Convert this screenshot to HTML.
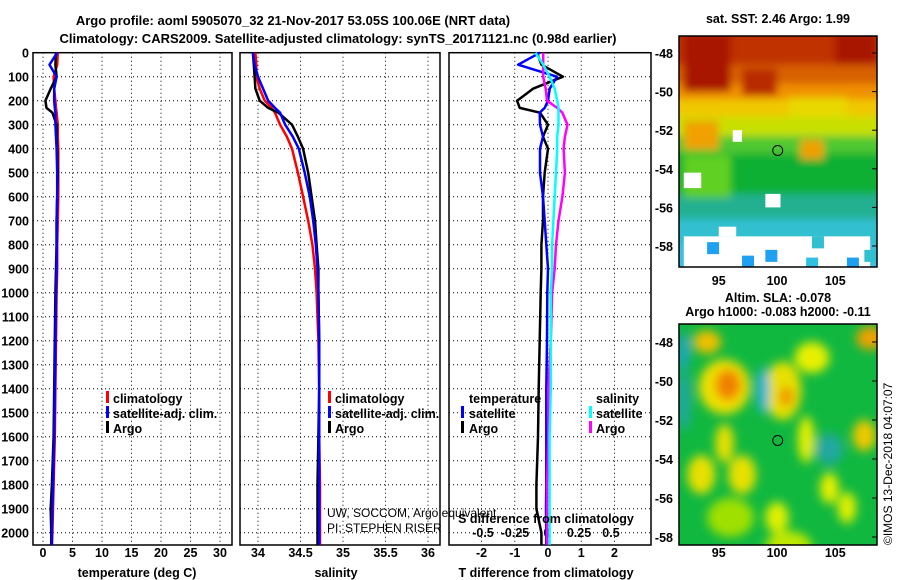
<!DOCTYPE html>
<html><head><meta charset="utf-8"><style>
body{margin:0;background:#fff;}
svg{display:block;font-family:"Liberation Sans",sans-serif;}
.t{font-weight:bold;font-size:13px;fill:#000;}
.tk{font-weight:bold;font-size:12.5px;fill:#000;}
</style></head><body>
<svg id="fig" width="900" height="580" viewBox="0 0 900 580">
<defs>
<filter id="bl" x="-20%" y="-20%" width="140%" height="140%"><feGaussianBlur stdDeviation="5"/></filter>
<filter id="bl2" x="-20%" y="-20%" width="140%" height="140%"><feGaussianBlur stdDeviation="4"/></filter>
<clipPath id="c1"><rect x="679" y="36" width="198" height="231"/></clipPath>
<clipPath id="c2"><rect x="679" y="324" width="198" height="221"/></clipPath>
</defs>
<text class="t" x="293" y="25" text-anchor="middle">Argo profile: aoml 5905070_32 21-Nov-2017 53.05S 100.06E (NRT data)</text>
<text class="t" x="338" y="43" text-anchor="middle">Climatology: CARS2009. Satellite-adjusted climatology: synTS_20171121.nc (0.98d earlier)</text>
<g id="plots"></g>
<g id="maps"></g>
</svg>
<script>
// ---- data ----
const depths = [0,50,100,150,200,230,250,300,350,400,500,600,700,800,900,1000,1200,1400,1600,1800,1900,2000,2050];
const tempClim = [2.5,2.4,1.8,1.9,2.1,2.2,2.3,2.5,2.5,2.6,2.6,2.6,2.5,2.4,2.4,2.3,2.2,2.1,2.0,1.8,1.7,1.6,1.5];
const tempSat  = [2.4,1.1,2.3,1.9,1.9,2.0,2.1,2.1,2.2,2.3,2.4,2.4,2.3,2.3,2.3,2.2,2.1,2.0,1.9,1.7,1.6,1.5,1.5];
const tempArgo = [2.2,2.1,2.3,1.3,0.4,0.6,1.6,2.3,2.3,2.4,2.5,2.4,2.3,2.3,2.2,2.1,2.0,1.9,1.8,1.5,1.3,1.4,1.4];
const salClim = [33.97,33.98,33.98,34.02,34.08,34.16,34.2,34.26,34.34,34.4,34.47,34.53,34.59,34.64,34.67,34.69,34.71,34.72,34.72,34.73,34.73,34.73,34.73];
const salSat  = [33.94,33.96,34.0,34.06,34.12,34.2,34.26,34.32,34.41,34.48,34.55,34.61,34.65,34.68,34.7,34.71,34.72,34.72,34.72,34.72,34.72,34.72,34.72];
const salArgo = [33.94,33.95,33.96,33.97,34.02,34.12,34.24,34.4,34.47,34.53,34.59,34.63,34.67,34.69,34.71,34.71,34.72,34.72,34.71,34.70,34.70,34.70,34.70];
const tDiffArgo = [-0.33,-0.2,0.45,-0.45,-0.93,-0.85,-0.24,0,-0.15,0,-0.1,-0.15,-0.15,-0.2,-0.2,-0.22,-0.25,-0.28,-0.3,-0.35,-0.35,-0.2,-0.2];
const tDiffSat  = [-0.24,-0.9,0.27,0.05,0,-0.1,-0.25,-0.24,-0.15,-0.24,-0.24,-0.15,-0.1,-0.05,0,-0.02,-0.03,-0.05,-0.05,-0.05,-0.06,-0.05,-0.05];
const sDiffArgo = [-0.03,-0.03,-0.03,-0.01,0,0.08,0.12,0.16,0.14,0.13,0.14,0.12,0.09,0.07,0.06,0.04,0.03,0.01,0.01,0.0,0.0,0.0,0.0];
const sDiffSat  = [-0.09,-0.03,0.02,0.06,0.08,0.09,0.09,0.09,0.08,0.08,0.07,0.06,0.05,0.04,0.04,0.03,0.03,0.03,0.02,0.02,0.02,0.02,0.02];
const depthTicks = [0,100,200,300,400,500,600,700,800,900,1000,1100,1200,1300,1400,1500,1600,1700,1800,1900,2000];
const tempTicks = [0,5,10,15,20,25,30];
const salTicks = [34,34.5,35,35.5,36];
const tDiffTicks = [-2,-1,0,1,2];
const sDiffTicks = [-0.5,-0.25,0,0.25,0.5];

const NS='http://www.w3.org/2000/svg';
function mk(tag,attrs,parent){const e=document.createElementNS(NS,tag);for(const k in attrs)e.setAttribute(k,attrs[k]);parent.appendChild(e);return e;}
const Y0=52.7, PXM=0.24, YB=545;
const yScale = d => Y0 + d*PXM;
const tempX = v => 43 + v*5.9;
const salX = v => 258 + (v-34)*85;
const tdX = v => 548 + v*33.25;
const sdX = v => 547 + v*128;
const G = document.getElementById('plots');

function panel(name,x0,x1,xTicks,xf,labelY){
  const g=mk('g',{},G);
  
  
  depthTicks.forEach(d=>{const y=yScale(d);
    const l=mk('line',{x1:x0,x2:x1,y1:y,y2:y,stroke:'#000','stroke-width':1,'stroke-dasharray':'1,3'},g);
    
    
  });
  xTicks.forEach(v=>{const x=xf(v);
    const l=mk('line',{x1:x,x2:x,y1:Y0,y2:YB,stroke:'#000','stroke-width':1,'stroke-dasharray':'1,3'},g);
    
    
    const t=mk('text',{x:x,y:labelY,'text-anchor':'middle',class:'tk'},g);t.textContent=String(v);
    
    
  });
  const r=mk('rect',{x:x0,y:Y0,width:x1-x0,height:YB-Y0,fill:'none',stroke:'#000','stroke-width':1.5},g);
  
  
  return g;
}
function line(g,vals,xf,color,name){
  const pts=vals.map((v,i)=>xf(v).toFixed(1)+','+yScale(depths[i]).toFixed(1)).join(' ');
  const p=mk('polyline',{points:pts,fill:'none',stroke:color,'stroke-width':2.5,'stroke-linejoin':'round'},g);
  
  
}
function txt(g,x,y,s,name,extra){const t=mk('text',Object.assign({x:x,y:y,class:'tk'},extra||{}),g);t.textContent=s;
  
  return t;}
function legBar(g,x,y,c){const r=mk('rect',{x:x,y:y-11,width:3,height:12,fill:c},g);
  
  }

depthTicks.forEach(d=>{const t=mk('text',{x:29,y:yScale(d)+5,'text-anchor':'end',class:'tk'},G);t.textContent=d;
  
  });

const p1=panel('temperature-panel',33,232,tempTicks,tempX,557);
line(p1,tempClim,tempX,'#f00','temp-climatology-line');
line(p1,tempArgo,tempX,'#000','temp-argo-line');
line(p1,tempSat,tempX,'#00f','temp-satellite-line');
txt(p1,137,577,'temperature (deg C)','x-axis-title',{'text-anchor':'middle'});
legBar(p1,106,402,'#f00');txt(p1,113,403,'climatology','legend-climatology');
legBar(p1,106,417,'#00f');txt(p1,113,418,'satellite-adj. clim.','legend-satellite');
legBar(p1,106,432,'#000');txt(p1,113,433,'Argo','legend-argo');

const p2=panel('salinity-panel',240,440,salTicks,salX,557);
line(p2,salClim,salX,'#f00','sal-climatology-line');
line(p2,salArgo,salX,'#000','sal-argo-line');
line(p2,salSat,salX,'#00f','sal-satellite-line');
txt(p2,336,577,'salinity','x-axis-title',{'text-anchor':'middle'});
legBar(p2,328,402,'#f00');txt(p2,335,403,'climatology','legend-climatology');
legBar(p2,328,417,'#00f');txt(p2,335,418,'satellite-adj. clim.','legend-satellite');
legBar(p2,328,432,'#000');txt(p2,335,433,'Argo','legend-argo');
txt(p2,327,517,'UW, SOCCOM, Argo equivalent','credit-text',{style:'font-weight:normal;font-size:12px'});
txt(p2,327,532,'PI: STEPHEN RISER','pi-text',{style:'font-weight:normal;font-size:12px'});

const p3=panel('difference-panel',449,651,tDiffTicks,tdX,557);
sDiffTicks.forEach(v=>{txt(p3,sdX(v),537,String(v),'s-tick-label',{'text-anchor':'middle'});});
line(p3,tDiffArgo,tdX,'#000','tdiff-argo-line');
line(p3,tDiffSat,tdX,'#00f','tdiff-satellite-line');
line(p3,sDiffArgo,sdX,'#f0f','sdiff-argo-line');
line(p3,sDiffSat,sdX,'#0ff','sdiff-satellite-line');
txt(p3,546,577,'T difference from climatology','x-axis-title',{'text-anchor':'middle'});
txt(p3,546,523,'S difference from climatology','s-axis-title',{'text-anchor':'middle'});
txt(p3,469,403,'temperature','legend-title-temperature');
legBar(p3,461,417,'#00f');txt(p3,469,418,'satellite','legend-t-satellite');
legBar(p3,461,432,'#000');txt(p3,469,433,'Argo','legend-t-argo');
txt(p3,596,403,'salinity','legend-title-salinity');
legBar(p3,589,417,'#0ff');txt(p3,596,418,'satellite','legend-s-satellite');
legBar(p3,589,432,'#f0f');txt(p3,596,433,'Argo','legend-s-argo');

// ---- maps ----
const M=document.getElementById('maps');
const latTicks=[-48,-50,-52,-54,-56,-58];
const lonTicks=[95,100,105];
const lonX = v => 777 + (v-100)*11.65;
const lat1 = v => 53 + (-48 - v)*19.3;
const lat2 = v => 342 + (-48 - v)*19.5;
const sstBands=[[-46.5,-48.6,'#c03000'],[-48.6,-49.6,'#d86000'],[-49.6,-50.4,'#f09000'],[-50.4,-51.3,'#f0c800'],[-51.3,-52.3,'#c8e000'],[-52.3,-53.2,'#50c830'],[-53.2,-55.3,'#10b030'],[-55.3,-56.6,'#20b090'],[-56.6,-58,'#30c0d0'],[-58,-60,'#40c0e0']];
const sstPatches=[[92,-47,96,-50,'#a81400'],[97,-48.8,100,-50.2,'#b82a00'],[105,-47,108.5,-48.6,'#a81400'],[101,-50.3,106,-51.3,'#e8d800'],[92,-51.5,95,-53,'#f0a000'],[102,-52.5,104,-53.5,'#f0a000'],[92,-53.3,96,-55.5,'#60d020']];
const whitePatches=[[92,-54.2,93.5,-55],[92,-57.5,108,-59.5],[95,-57,96.5,-57.5],[99,-55.3,100.3,-56],[96.2,-52,97,-52.6]];
const m1=mk('g',{'clip-path':'url(#c1)'},M);


const m1b=mk('g',{filter:'url(#bl2)'},m1);
sstBands.forEach(b=>{mk('rect',{x:670,y:lat1(b[0]),width:220,height:lat1(b[1])-lat1(b[0])+1,fill:b[2]},m1b);});
sstPatches.forEach(b=>{mk('rect',{x:lonX(b[0]),y:lat1(b[1]),width:lonX(b[2])-lonX(b[0]),height:lat1(b[3])-lat1(b[1]),fill:b[4]},m1b);});
whitePatches.forEach(b=>{mk('rect',{x:lonX(b[0]),y:lat1(b[1]),width:lonX(b[2])-lonX(b[0]),height:lat1(b[3])-lat1(b[1]),fill:'#fff'},m1);});
[[94,-57.8,'#20a0f0'],[97,-58.5,'#20a0f0'],[99,-58.2,'#20a0f0'],[102.5,-58.6,'#30c0e0'],[106,-58.6,'#20a0f0'],[107.5,-58.2,'#30c0d0'],[103,-57.5,'#30c0d0']].forEach(b=>{
  mk('rect',{x:lonX(b[0]),y:lat1(b[1]),width:12,height:12,fill:b[2]},m1);});
const slaBlobs=[[95.5,-50.3,2.2,1.4,'#f0e000'],[95.8,-50.2,1.1,0.8,'#f08000'],[100.5,-50.5,1.6,1.5,'#e8e000'],[100.8,-50.8,0.6,0.5,'#f09000'],[98.8,-50.5,0.5,1.2,'#20b0e0'],[103,-48.8,1.5,0.8,'#e8f000'],[94,-48,1.2,0.6,'#f0c000'],[108,-47.8,1.2,0.6,'#f0a000'],[93.5,-54.8,1.2,1.0,'#e8e000'],[97,-54.8,1.2,1.0,'#e8e000'],[95.5,-53.2,0.8,1.0,'#e8e000'],[102.5,-53,0.7,1.2,'#e8f000'],[107.5,-52.8,1,0.8,'#f0c800'],[104.5,-55.5,0.8,0.8,'#e8f000'],[100,-57,1,0.8,'#e0f000'],[106,-56.5,0.8,0.8,'#e0f000'],[92,-51,0.6,1.6,'#20a8a0'],[104.5,-53.5,1.2,0.8,'#20a8a0'],[92,-48.5,0.4,1,'#20a0e0'],[101,-58.5,2,0.8,'#c0e800'],[96,-57,2,1,'#a0e000']];
const m2=mk('g',{'clip-path':'url(#c2)'},M);


mk('rect',{x:679,y:324,width:198,height:221,fill:'#10b840'},m2);
const m2b=mk('g',{filter:'url(#bl)'},m2);
slaBlobs.forEach(b=>{mk('ellipse',{cx:lonX(b[0]),cy:lat2(b[1]),rx:b[2]*11.65,ry:b[3]*19.5,fill:b[4]},m2b);});

function mapAxes(top,bot,latf,lonLabelY,name){
  const g=mk('g',{},M);
  
  
  mk('rect',{x:679,y:top,width:198,height:bot-top,fill:'none',stroke:'#000','stroke-width':1.5},g);
  latTicks.forEach(v=>{const y=latf(v);mk('line',{x1:872,x2:877,y1:y,y2:y,stroke:'#000'},g);
    const t=mk('text',{x:673,y:y+5,'text-anchor':'end',class:'tk'},g);t.textContent=v;
    
    });
  lonTicks.forEach(v=>{const x=lonX(v);
    const t=mk('text',{x:x,y:lonLabelY,'text-anchor':'middle',class:'tk'},g);t.textContent=v;
    
    });
  return g;
}
mapAxes(36,267,lat1,285,'sst-map-axes');
mapAxes(324,545,lat2,557,'sla-map-axes');
const c1=mk('circle',{cx:lonX(100.06),cy:lat1(-53.05),r:5,fill:'none',stroke:'#000','stroke-width':1},M);


const c2=mk('circle',{cx:lonX(100.06),cy:lat2(-53.05),r:5,fill:'none',stroke:'#000','stroke-width':1},M);


txt(M,778,23,'sat. SST: 2.46 Argo: 1.99','sst-map-title',{'text-anchor':'middle'});
txt(M,778,302,'Altim. SLA: -0.078','sla-map-title',{'text-anchor':'middle'});
txt(M,778,316,'Argo h1000: -0.083 h2000: -0.11','argo-height-text',{'text-anchor':'middle'});
txt(M,892,545,'©IMOS 13-Dec-2018 04:07:07','imos-timestamp',{transform:'rotate(-90 892 545)',style:'font-weight:normal;font-size:12px'});
</script>
</body></html>
